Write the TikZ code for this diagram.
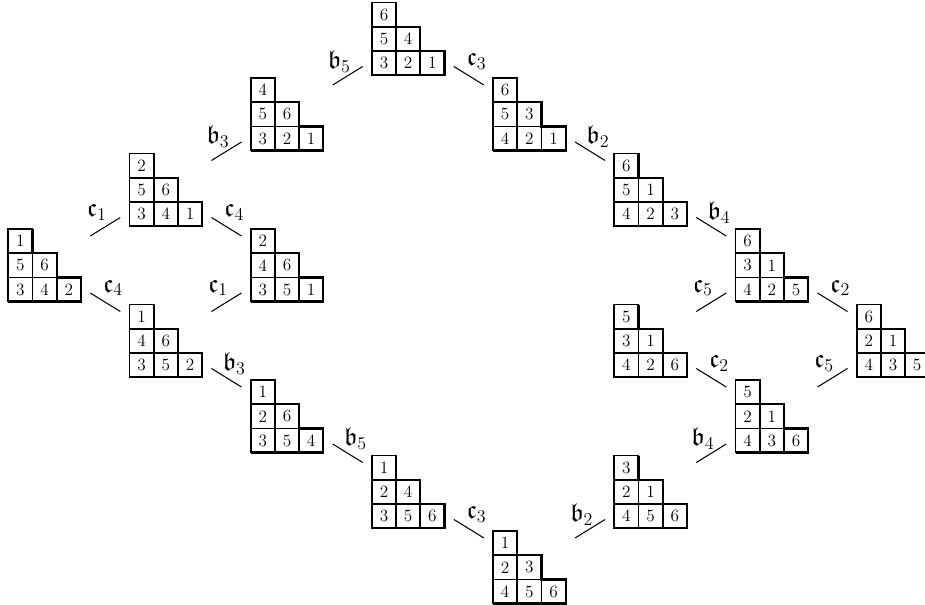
\documentclass[tikz,border=0pt]{standalone}
\usepackage{amssymb}
\usetikzlibrary{calc}
\tikzset{
  tabbox/.style={minimum size=48.42pt, inner sep=0pt, outer sep=0pt, anchor=north west},
  cell/.style={draw, line width=1.1pt, minimum size=16.14pt, inner sep=0pt, outer sep=0pt, font=\fontsize{11.5pt}{13pt}\selectfont},
  rim/.style={line width=1.5pt, line join=miter},
  conn/.style={line width=0.7pt},
  lbl/.style={inner sep=0pt, font=\LARGE, midway},
  lblD/.style={lbl, xshift=5.2pt, yshift=9.6pt},
  lblU/.style={lbl, xshift=-5.6pt, yshift=9.6pt},
}
\newcommand{\ytab}[9]{%
  \node[tabbox] (#1) at ({8.3+121.2*#2},{2.5+75.5*#3}) {};
  \node[cell] (#1-a) at ($(#1.north west)+(12.1,12.1)$) {#4};
  \node[cell] (#1-b) at ($(#1.north west)+(12.1,36.3)$) {#5};
  \node[cell] (#1-c) at ($(#1.north west)+(36.3,36.3)$) {#6};
  \node[cell] (#1-d) at ($(#1.north west)+(12.1,60.5)$) {#7};
  \node[cell] (#1-e) at ($(#1.north west)+(36.3,60.5)$) {#8};
  \node[cell] (#1-f) at ($(#1.north west)+(60.5,60.5)$) {#9};
  \draw[rim] (#1-a.north east) |- (#1-c.north east) |- (#1-f.north east) |- (#1-d.south west);
}
\newcommand{\dedge}[4]{%
  \draw[conn] ($(#1.south east)+(9.4,-8.6)$) -- node[lblD]{$\mathfrak{#3}_{#4}$} ($(#2.north west)+(-9.2,7)$);}
\newcommand{\uedge}[4]{%
  \draw[conn] ($(#1.north east)+(9.4,7)$) -- node[lblU]{$\mathfrak{#3}_{#4}$} ($(#2.south west)+(-9.2,-8.6)$);}
\begin{document}
\begin{tikzpicture}[x=0.667pt, y=-0.667pt]
\useasboundingbox (0,0) rectangle (925,605);
\ytab{t30}{3}{0}{6}{5}{4}{3}{2}{1}
\ytab{t21}{2}{1}{4}{5}{6}{3}{2}{1}
\ytab{t41}{4}{1}{6}{5}{3}{4}{2}{1}
\ytab{t12}{1}{2}{2}{5}{6}{3}{4}{1}
\ytab{t52}{5}{2}{6}{5}{1}{4}{2}{3}
\ytab{t03}{0}{3}{1}{5}{6}{3}{4}{2}
\ytab{t23}{2}{3}{2}{4}{6}{3}{5}{1}
\ytab{t63}{6}{3}{6}{3}{1}{4}{2}{5}
\ytab{t14}{1}{4}{1}{4}{6}{3}{5}{2}
\ytab{t54}{5}{4}{5}{3}{1}{4}{2}{6}
\ytab{t74}{7}{4}{6}{2}{1}{4}{3}{5}
\ytab{t25}{2}{5}{1}{2}{6}{3}{5}{4}
\ytab{t65}{6}{5}{5}{2}{1}{4}{3}{6}
\ytab{t36}{3}{6}{1}{2}{4}{3}{5}{6}
\ytab{t56}{5}{6}{3}{2}{1}{4}{5}{6}
\ytab{t47}{4}{7}{1}{2}{3}{4}{5}{6}
\uedge{t21}{t30}{b}{5}
\dedge{t30}{t41}{c}{3}
\uedge{t12}{t21}{b}{3}
\dedge{t41}{t52}{b}{2}
\uedge{t03}{t12}{c}{1}
\dedge{t12}{t23}{c}{4}
\dedge{t52}{t63}{b}{4}
\dedge{t03}{t14}{c}{4}
\uedge{t14}{t23}{c}{1}
\uedge{t54}{t63}{c}{5}
\dedge{t63}{t74}{c}{2}
\dedge{t14}{t25}{b}{3}
\dedge{t54}{t65}{c}{2}
\uedge{t65}{t74}{c}{5}
\dedge{t25}{t36}{b}{5}
\uedge{t56}{t65}{b}{4}
\dedge{t36}{t47}{c}{3}
\uedge{t47}{t56}{b}{2}
\end{tikzpicture}
\end{document}
